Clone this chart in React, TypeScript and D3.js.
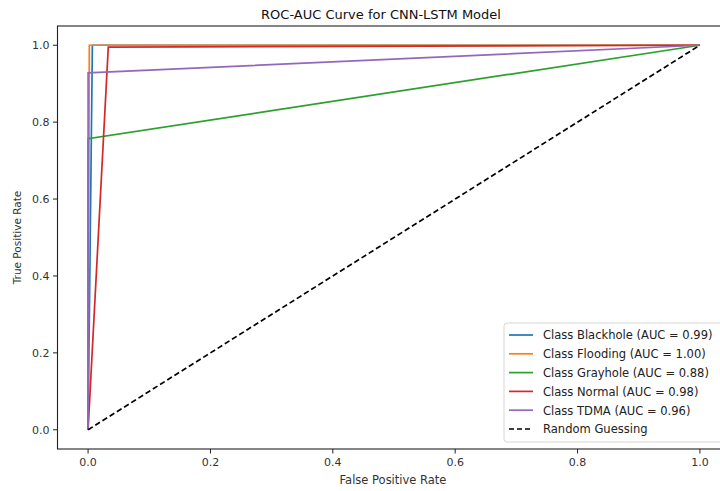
import React from 'react'
import * as d3 from 'd3'

// ROC points per class: [fpr, tpr]
const classNames = ['Blackhole', 'Flooding', 'Grayhole', 'Normal', 'TDMA']
const aucValues = ['0.99', '1.00', '0.88', '0.98', '0.96']
const blackholeRoc = [[0, 0], [0.007, 1], [1, 1]]
const floodingRoc = [[0, 0], [0.002, 1], [1, 1]]
const grayholeRoc = [[0, 0], [0, 0.757], [1, 1]]
const normalRoc = [[0, 0], [0.033, 0.995], [1, 1]]
const tdmaRoc = [[0, 0], [0, 0.928], [1, 1]]
const randomRoc = [[0, 0], [1, 1]]
const tickValues = [0, 0.2, 0.4, 0.6, 0.8, 1.0]

const colors = ['#1f77b4', '#ff7f0e', '#2ca02c', '#d62728', '#9467bd']
const series = [blackholeRoc, floodingRoc, grayholeRoc, normalRoc, tdmaRoc]

const width = 720
const height = 491
const font = 'DejaVu Sans, sans-serif'

export default function App() {
  let x = d3.scaleLinear().domain([-0.05, 1.05]).range([57.5, 730.5])
  let y = d3.scaleLinear().domain([-0.05, 1.05]).range([449, 26])
  let line = d3
    .line()
    .x((d) => x(d[0]))
    .y((d) => y(d[1]))

  const legendItems = classNames.map((name, i) => ({
    label: `Class ${name} (AUC = ${aucValues[i]})`,
    color: colors[i],
    dash: null,
  }))
  legendItems.push({label: 'Random Guessing', color: '#000', dash: '5,3'})

  const lx = 504
  const ly = 323
  const rowH = 18.8

  return (
    <svg
      width={width}
      height={height}
      style={{position: 'absolute', left: 0, top: 0, background: '#fff'}}
      fontFamily={font}
    >
      <rect width={width} height={height} fill="#fff" />
      <text x={381} y={19} textAnchor="middle" fontSize={13} fill="#111">
        ROC-AUC Curve for CNN-LSTM Model
      </text>

      <g>
        {series.map((pts, i) => (
          <path
            key={i}
            d={line(pts)}
            fill="none"
            stroke={colors[i]}
            strokeWidth={1.7}
          />
        ))}
        <path
          d={line(randomRoc)}
          fill="none"
          stroke="#000"
          strokeWidth={1.7}
          strokeDasharray="5.5,3"
        />
      </g>

      <rect
        x={x(-0.05)}
        y={y(1.05)}
        width={x(1.05) - x(-0.05)}
        height={y(-0.05) - y(1.05)}
        fill="none"
        stroke="#222"
        strokeWidth={1.1}
      />

      {/* x axis */}
      {tickValues.map((t) => (
        <g key={'x' + t} transform={`translate(${x(t)},${y(-0.05)})`}>
          <line y2={4.5} stroke="#222" />
          <text y={17} textAnchor="middle" fontSize={11} fill="#333">
            {t.toFixed(1)}
          </text>
        </g>
      ))}
      <text x={393} y={484} textAnchor="middle" fontSize={11.5} fill="#333">
        False Positive Rate
      </text>

      {/* y axis */}
      {tickValues.map((t) => (
        <g key={'y' + t} transform={`translate(${x(-0.05)},${y(t)})`}>
          <line x2={-4.5} stroke="#222" />
          <text x={-8} dy="0.35em" textAnchor="end" fontSize={11} fill="#333">
            {t.toFixed(1)}
          </text>
        </g>
      ))}
      <text
        transform={`translate(21,${y(0.5)}) rotate(-90)`}
        textAnchor="middle"
        fontSize={10.5}
        fill="#333"
      >
        True Positive Rate
      </text>

      {/* legend */}
      <rect
        x={lx}
        y={ly}
        width={240}
        height={119}
        rx={3}
        fill="#fff"
        fillOpacity={0.85}
        stroke="#d6d6d6"
      />
      {legendItems.map((d, i) => (
        <g key={d.label} transform={`translate(${lx},${ly + 12 + i * rowH})`}>
          <line
            x1={5}
            x2={29}
            stroke={d.color}
            strokeWidth={1.7}
            strokeDasharray={d.dash || undefined}
          />
          <text
            transform="translate(39,0) scale(0.93,1)"
            dy="0.36em"
            fontSize={12.4}
            fill="#222"
          >
            {d.label}
          </text>
        </g>
      ))}
    </svg>
  )
}
